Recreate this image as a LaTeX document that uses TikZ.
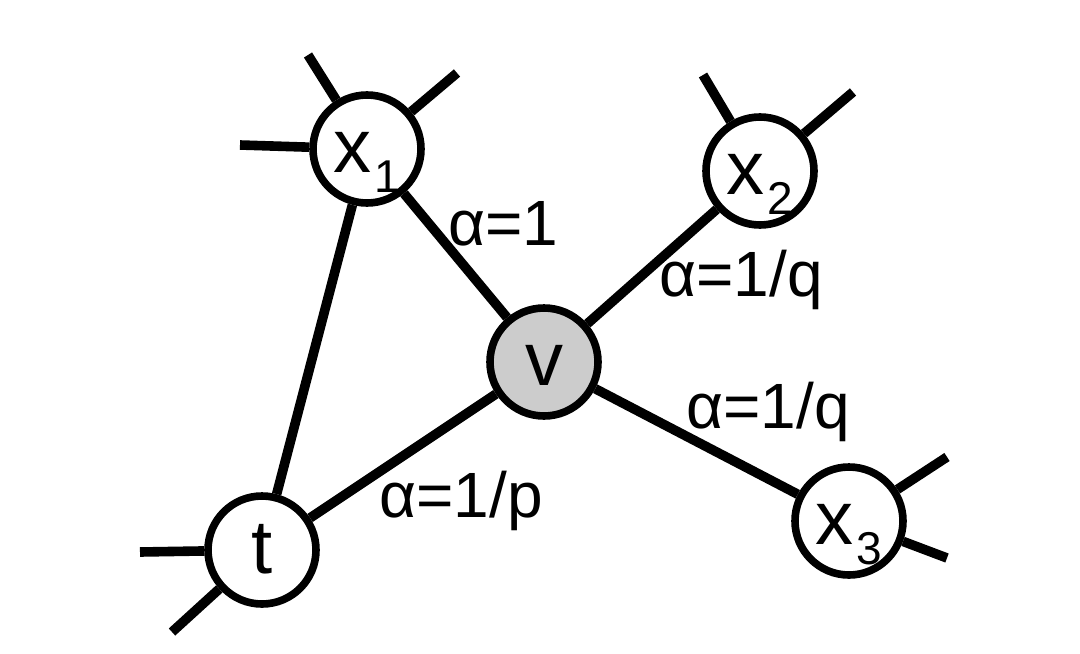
\documentclass[tikz,border=0pt]{standalone}
\usepackage{fontspec}
\setmainfont{Liberation Sans}
\newcommand{\sbs}[1]{\raisebox{-10pt}{\fontsize{23}{26}\selectfont #1}}
\begin{document}
\begin{tikzpicture}[x=0.5pt,y=-0.5pt,
  vert/.style={circle,draw=black,line width=3.8pt,fill=white,minimum size=54pt,inner sep=0pt,
    text height=23pt,text depth=0pt,font=\fontsize{38}{42}\selectfont},
  cvert/.style={vert,fill=black!20},
  edge/.style={line width=4.8pt,black},
  lab/.style={anchor=base,inner sep=0pt,font=\fontsize{32}{36}\selectfont}]
\useasboundingbox (0,0) rectangle (1080,653);
\node[vert] (x1) at (367,149) {x\kern1.5pt\sbs{1}};
\node[vert] (x2) at (760,171) {x\kern1.5pt\sbs{2}};
\node[cvert] (v) at (544,362) {v};
\node[vert] (t) at (262,550) {t};
\node[vert] (x3) at (849,521) {x\kern1.5pt\sbs{3}};
\coordinate (a1) at (308,55);
\coordinate (a2) at (457,73);
\coordinate (a3) at (240,145);
\coordinate (b1) at (703,75);
\coordinate (b2) at (853,92);
\coordinate (c1) at (140,552);
\coordinate (c2) at (172,632);
\coordinate (d1) at (947,457);
\coordinate (d2) at (947,558);
\draw[edge] (x1) -- (v);
\draw[edge] (x1) -- (t);
\draw[edge] (t) -- (v);
\draw[edge] (v) -- (x2);
\draw[edge] (v) -- (x3);
\draw[edge] (x1) -- (a1);
\draw[edge] (x1) -- (a2);
\draw[edge] (x1) -- (a3);
\draw[edge] (x2) -- (b1);
\draw[edge] (x2) -- (b2);
\draw[edge] (t) -- (c1);
\draw[edge] (t) -- (c2);
\draw[edge] (x3) -- (d1);
\draw[edge] (x3) -- (d2);
\node[lab] (l1) at (503,245) {α=1};
\node[lab] (l2) at (741,296) {α=1/q};
\node[lab] (l3) at (768,428) {α=1/q};
\node[lab] (l4) at (461,517) {α=1/p};
\end{tikzpicture}
\end{document}
